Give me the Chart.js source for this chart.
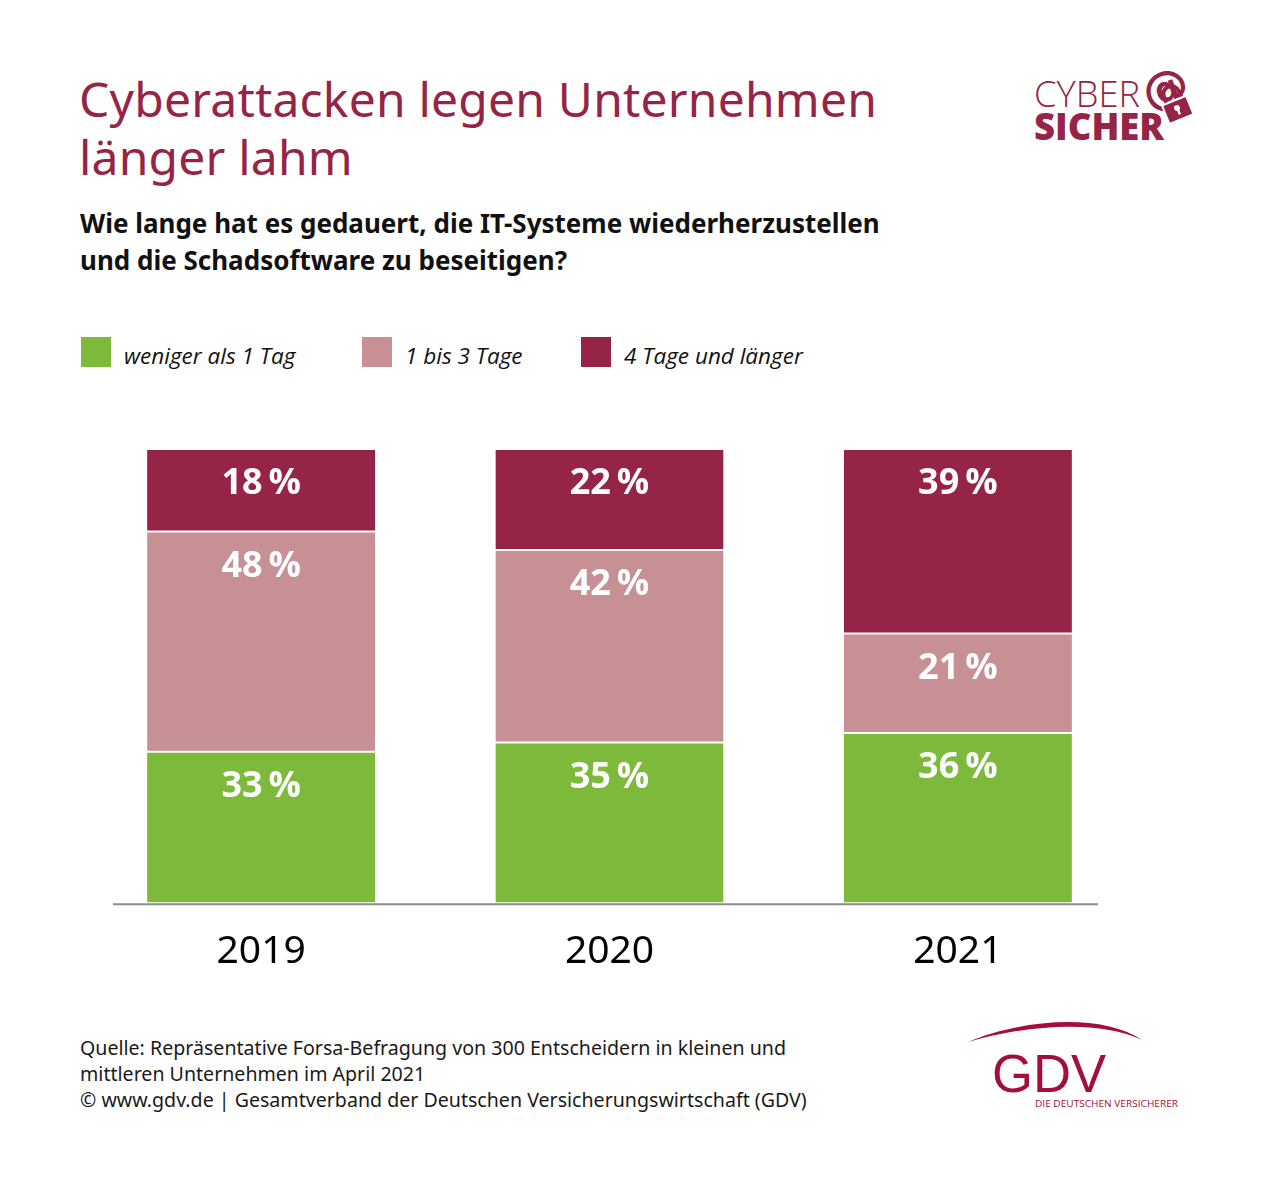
<!DOCTYPE html>
<html lang="de">
<head>
<meta charset="utf-8">
<title>Cyberattacken legen Unternehmen länger lahm</title>
<script src="https://cdn.jsdelivr.net/npm/chart.js@4.4.1/dist/chart.umd.min.js"></script>
<style>
  html, body { margin: 0; padding: 0; background: #fff; }
  body { width: 1270px; height: 1188px; position: relative; font-family: "Noto Sans", "Open Sans", sans-serif; overflow: hidden; }
  h1 { position: absolute; left: 79px; top: 70px; margin: 0; font-weight: 400; font-size: 48px; line-height: 58px; color: #962446; letter-spacing: 0.2px; }
  .frage { position: absolute; left: 80px; top: 205px; margin: 0; font-weight: 700; font-size: 26px; line-height: 37px; color: #111; }
  #legende { position: absolute; left: 81px; top: 337px; height: 30px; }
  .eintrag { position: absolute; top: 0; white-space: nowrap; }
  .eintrag span.box { position: absolute; left: 0; top: 0; width: 30px; height: 30px; }
  .eintrag span.txt { position: absolute; left: 43px; top: 3px; font-style: italic; font-size: 22.5px; color: #111; font-family: "Open Sans", sans-serif; }
  #box { position: absolute; left: 0; top: 400px; width: 1270px; height: 600px; }
  .quelle { position: absolute; left: 80px; top: 1035px; margin: 0; font-size: 19.6px; line-height: 26px; color: #1a1a1a; }
  svg { position: absolute; }
</style>
</head>
<body>
<h1>Cyberattacken legen Unternehmen<br>länger lahm</h1>
<p class="frage">Wie lange hat es gedauert, die IT-Systeme wiederherzustellen<br>und die Schadsoftware zu beseitigen?</p>

<div id="legende"></div>

<div id="box"><canvas id="balken"></canvas></div>

<p class="quelle">Quelle: Repräsentative Forsa-Befragung von 300 Entscheidern in kleinen und<br>mittleren Unternehmen im April 2021<br>© www.gdv.de | Gesamtverband der Deutschen Versicherungswirtschaft (GDV)</p>

<!-- Logo Cyber Sicher -->
<svg style="left:1025px; top:60px" width="180" height="95">
  <text x="9" y="47" font-family="Open Sans, sans-serif" font-weight="300" font-size="37" fill="#962446" textLength="106" lengthAdjust="spacingAndGlyphs">CYBER</text>
  <text x="9" y="80" font-family="Open Sans, sans-serif" font-weight="800" font-size="37" fill="#962446" textLength="130" lengthAdjust="spacingAndGlyphs">SICHER</text>
  <text x="118" y="44" font-family="DejaVu Sans, sans-serif" font-weight="700" font-size="46" fill="#962446" transform="rotate(-20 140 30)">@</text>
  <g transform="rotate(-22 152 48)">
    <path d="M144 40 v-7 a8 8 0 0 1 16 0 v7" fill="none" stroke="#962446" stroke-width="4"/>
    <rect x="139" y="40" width="26" height="20" rx="2" fill="#962446" stroke="#fff" stroke-width="2"/>
    <circle cx="152" cy="48" r="3" fill="#fff"/>
    <rect x="151" y="48" width="2.5" height="7" fill="#fff"/>
  </g>
</svg>

<!-- Logo GDV -->
<svg style="left:960px; top:1012px" width="230" height="105">
  <path d="M8 30 C 60 8, 140 0, 182 28 C 140 8, 70 12, 8 30 Z" fill="#A50D3A"/>
  <text x="32" y="80" font-family="Liberation Sans, Arial, sans-serif" font-weight="400" font-size="54" fill="#A50D3A" textLength="114" lengthAdjust="spacingAndGlyphs">GDV</text>
  <text x="75" y="95" font-family="Open Sans, sans-serif" font-size="9.5" fill="#A50D3A" textLength="143" lengthAdjust="spacingAndGlyphs">DIE DEUTSCHEN VERSICHERER</text>
</svg>

<script>
// Werte aus der Grafik (Angaben in Prozent)
const jahre = ['2019', '2020', '2021'];
const serienNamen = ['weniger als 1 Tag', '1 bis 3 Tage', '4 Tage und länger'];
const wenigerAls1Tag = [33, 35, 36];
const einBisDreiTage = [48, 42, 21];
const vierTageUndLaenger = [18, 22, 39];
const farben = ['#7DBA3C', '#C79095', '#962446'];

const werte = [wenigerAls1Tag, einBisDreiTage, vierTageUndLaenger];

// Die Balken sind in der Vorlage auf volle Höhe gestreckt
const summen = jahre.map((j, i) => werte.reduce((acc, reihe) => acc + reihe[i], 0));

// Legende
const legende = document.getElementById('legende');
const legendeX = [0, 281, 500];
serienNamen.forEach((name, i) => {
    const el = document.createElement('div');
    el.className = 'eintrag';
    el.style.left = legendeX[i] + 'px';
    el.innerHTML = '<span class="box" style="background:' + farben[i] + '"></span><span class="txt">' + name + '</span>';
    legende.appendChild(el);
});

// Prozentwerte in die Balken schreiben
const wertLabels = {
    id: 'wertLabels',
    afterDatasetsDraw(chart) {
        const ctx = chart.ctx;
        ctx.save();
        ctx.fillStyle = '#fff';
        ctx.font = 'bold 36px "Open Sans", sans-serif';
        ctx.textAlign = 'center';
        ctx.textBaseline = 'middle';
        chart.data.datasets.forEach((ds, d) => {
            const meta = chart.getDatasetMeta(d);
            meta.data.forEach((bar, i) => {
                ctx.fillText(werte[d][i] + '\u2009%', bar.x, bar.y + 35);
            });
        });
        ctx.restore();
    }
};

// Grundlinie unter den Balken
const grundlinie = {
    id: 'grundlinie',
    afterDraw(chart) {
        const ctx = chart.ctx;
        const y = chart.scales.y.getPixelForValue(0) + 1;
        ctx.save();
        ctx.strokeStyle = '#8c8c8c';
        ctx.lineWidth = 2;
        ctx.beginPath();
        ctx.moveTo(113, y);
        ctx.lineTo(1098, y);
        ctx.stroke();
        ctx.restore();
    }
};

new Chart(document.getElementById('balken').getContext('2d'), {
    type: 'bar',
    data: {
        labels: jahre,
        datasets: werte.map((reihe, d) => ({
            label: serienNamen[d],
            data: reihe.map((v, i) => v / summen[i] * 100),
            backgroundColor: farben[d],
            borderColor: '#fff',
            borderWidth: { top: 1, bottom: 1 },
            borderSkipped: false,
            barPercentage: 0.655,
            categoryPercentage: 1
        }))
    },
    options: {
        responsive: true,
        maintainAspectRatio: false,
        animation: false,
        layout: { padding: { left: 87, right: 138, top: 49, bottom: 0 } },
        plugins: {
            legend: { display: false },
            tooltip: { enabled: false }
        },
        scales: {
            x: {
                stacked: true,
                grid: { display: false, drawTicks: false },
                border: { display: false },
                ticks: {
                    color: '#000',
                    padding: 25,
                    font: { family: '"Noto Sans", sans-serif', size: 39 }
                }
            },
            y: {
                stacked: true,
                display: false,
                min: 0,
                max: 100
            }
        }
    },
    plugins: [wertLabels, grundlinie]
});
</script>
</body>
</html>
